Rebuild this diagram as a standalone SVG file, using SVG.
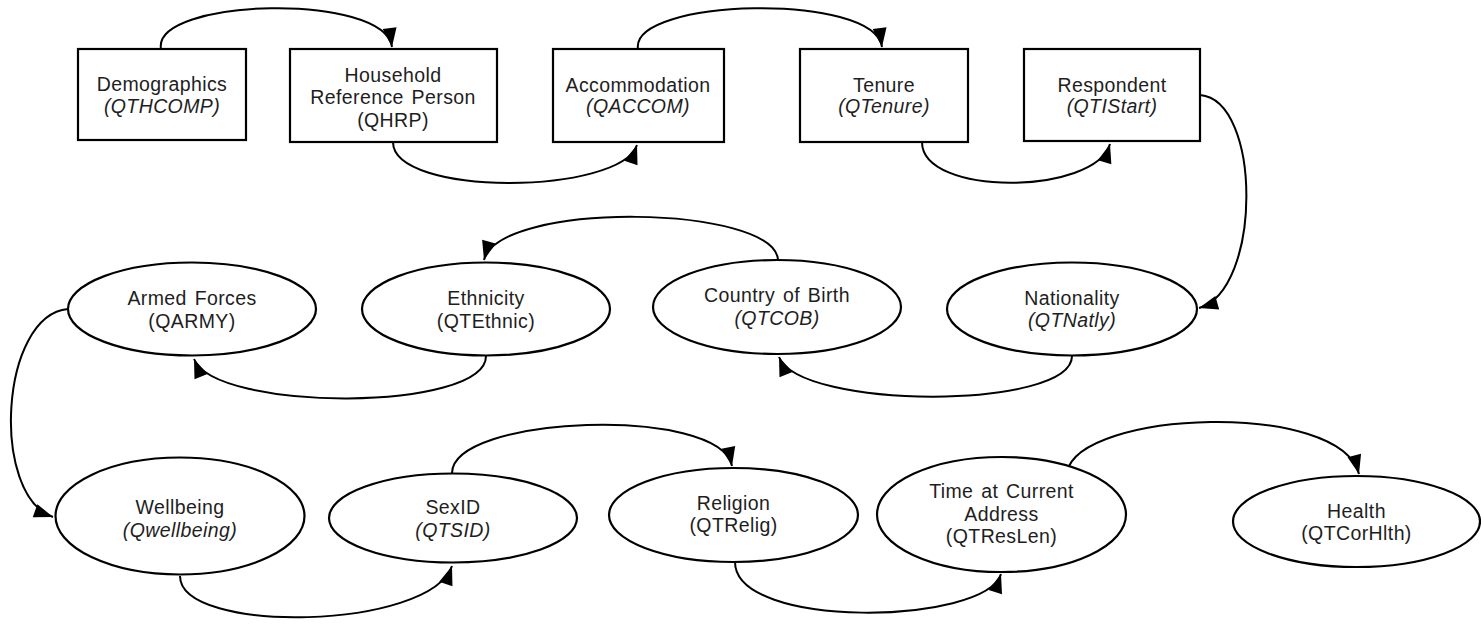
<svg xmlns="http://www.w3.org/2000/svg" width="1481" height="624" viewBox="0 0 1481 624">
<style>
.box{fill:#fff;stroke:#000;stroke-width:2.2}
.oval{fill:#fff;stroke:#000;stroke-width:2.2}
.lbl{font-family:"Liberation Sans",Arial,sans-serif;font-size:19.5px;fill:#1e1e1e;text-anchor:middle;letter-spacing:0.4px;word-spacing:2px}
.it{font-style:italic}
.conn path{fill:none;stroke:#000;stroke-width:2;marker-end:url(#arr)}
</style>
<defs>
<marker id="arr" markerUnits="userSpaceOnUse" markerWidth="20" markerHeight="16" viewBox="0 0 20 16" refX="19" refY="8" orient="auto" overflow="visible">
<path d="M0,1 L19,8 L0,15 z" fill="#000"/>
</marker>
</defs>
<rect width="1481" height="624" fill="#fff"/>
<g class="conn" id="connectors">
<path d="M161,49 C152,-2 385,-8 392,47"/>
<path d="M393,142 C393,197 620,195 637,145"/>
<path d="M638,49 C630,-2 875,-8 882,47"/>
<path d="M922,142 C922,197 1095,195 1110,144"/>
<path d="M1200,95 C1262,100 1262,290 1199,308"/>
<path d="M1072,356 C1072,410 800,410 779,357"/>
<path d="M778,260 C775,205 500,200 484,260"/>
<path d="M486,356 C486,412 215,412 194,359"/>
<path d="M68,309 C0,315 -10,495 53,517"/>
<path d="M180,576 C180,635 430,630 452,566"/>
<path d="M452,474 C450,415 720,405 732,466"/>
<path d="M735,562 C735,630 985,625 1001,574"/>
<path d="M1067,472 C1080,410 1340,400 1359,474"/>
</g>
<g id="demographics"><rect class="box" x="78" y="49" width="168" height="91"/><text class="lbl" x="162" y="91">Demographics</text><text class="lbl it" x="162" y="113">(QTHCOMP)</text></g>
<g id="hrp"><rect class="box" x="290" y="49" width="207" height="93"/><text class="lbl" x="393" y="82">Household</text><text class="lbl" x="393" y="104">Reference Person</text><text class="lbl" x="393" y="127">(QHRP)</text></g>
<g id="accommodation"><rect class="box" x="553" y="49" width="171" height="93"/><text class="lbl" x="638" y="92">Accommodation</text><text class="lbl it" x="638" y="113">(QACCOM)</text></g>
<g id="tenure"><rect class="box" x="800" y="49" width="168" height="93"/><text class="lbl" x="884" y="92">Tenure</text><text class="lbl it" x="884" y="113">(QTenure)</text></g>
<g id="respondent"><rect class="box" x="1024" y="49" width="176" height="92"/><text class="lbl" x="1112" y="92">Respondent</text><text class="lbl it" x="1112" y="113">(QTIStart)</text></g>
<g id="armed"><ellipse class="oval" cx="192" cy="309" rx="124" ry="46.5"/><text class="lbl" x="192" y="305">Armed Forces</text><text class="lbl" x="192" y="328">(QARMY)</text></g>
<g id="ethnicity"><ellipse class="oval" cx="486" cy="309" rx="124" ry="46.5"/><text class="lbl" x="486" y="305">Ethnicity</text><text class="lbl" x="486" y="328">(QTEthnic)</text></g>
<g id="cob"><ellipse class="oval" cx="777" cy="307" rx="124" ry="47"/><text class="lbl" x="777" y="302">Country of Birth</text><text class="lbl it" x="777" y="325">(QTCOB)</text></g>
<g id="nationality"><ellipse class="oval" cx="1072" cy="309" rx="125" ry="46.5"/><text class="lbl" x="1072" y="305">Nationality</text><text class="lbl it" x="1072" y="327">(QTNatly)</text></g>
<g id="wellbeing"><ellipse class="oval" cx="180" cy="516" rx="124.5" ry="58.5"/><text class="lbl" x="180" y="514">Wellbeing</text><text class="lbl it" x="180" y="537">(Qwellbeing)</text></g>
<g id="sexid"><ellipse class="oval" cx="453" cy="518" rx="124" ry="44.5"/><text class="lbl" x="453" y="514">SexID</text><text class="lbl it" x="453" y="537">(QTSID)</text></g>
<g id="religion"><ellipse class="oval" cx="733.5" cy="515" rx="124.5" ry="47"/><text class="lbl" x="733.5" y="510">Religion</text><text class="lbl" x="733.5" y="532">(QTRelig)</text></g>
<g id="timeaddr"><ellipse class="oval" cx="1001.5" cy="514.5" rx="124.5" ry="57.5"/><text class="lbl" x="1001.5" y="498">Time at Current</text><text class="lbl" x="1001.5" y="521">Address</text><text class="lbl" x="1001.5" y="543">(QTResLen)</text></g>
<g id="health"><ellipse class="oval" cx="1356.5" cy="521.5" rx="123.5" ry="45.5"/><text class="lbl" x="1356.5" y="518">Health</text><text class="lbl" x="1356.5" y="540">(QTCorHlth)</text></g>
</svg>
